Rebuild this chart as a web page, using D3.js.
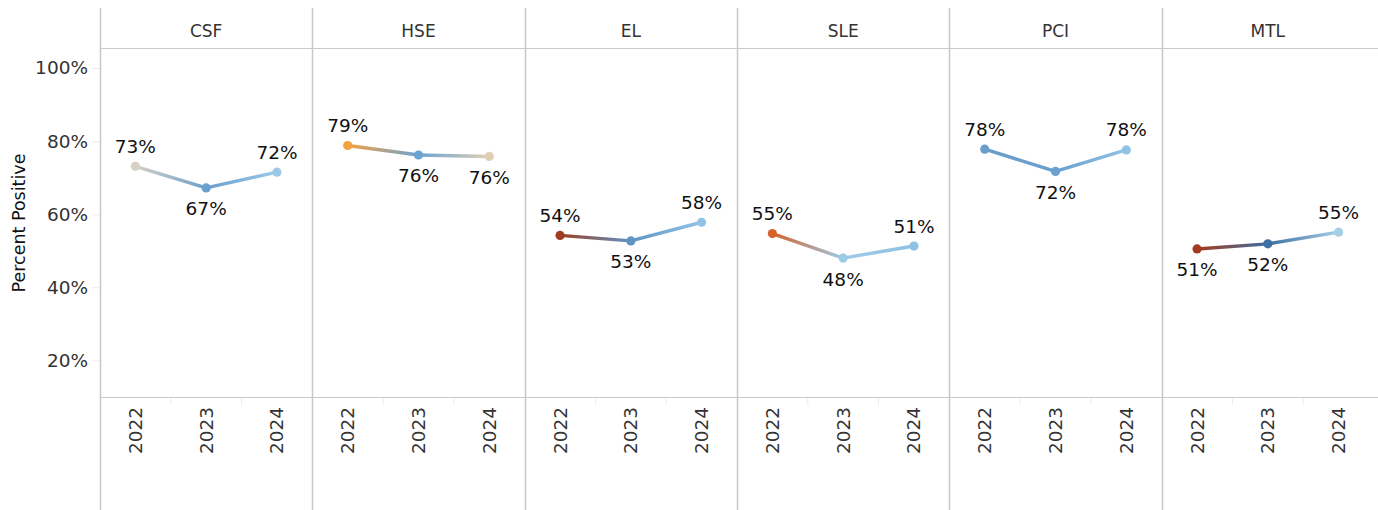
<!DOCTYPE html>
<html>
<head>
<meta charset="utf-8">
<script src="https://cdn.jsdelivr.net/npm/d3@7"></script>
<style>
  body { margin: 0; background: #fff; }
  svg text { font-family: "DejaVu Sans", sans-serif; }
</style>
</head>
<body>
<div id="chart"></div>
<script>
// data
const subjects = ["CSF", "HSE", "EL", "SLE", "PCI", "MTL"];
const years = ["2022", "2023", "2024"];
const values = [
  [73.1, 67.2, 71.5],
  [78.8, 76.2, 75.8],
  [54.2, 52.7, 57.8],
  [54.7, 48.0, 51.3],
  [77.8, 71.7, 77.6],
  [50.5, 51.9, 55.1]
];
const labels = [
  ["73%", "67%", "72%"],
  ["79%", "76%", "76%"],
  ["54%", "53%", "58%"],
  ["55%", "48%", "51%"],
  ["78%", "72%", "78%"],
  ["51%", "52%", "55%"]
];
const labelSide = [
  ["up", "down", "up"],
  ["up", "down", "down"],
  ["up", "down", "up"],
  ["up", "down", "up"],
  ["up", "down", "up"],
  ["down", "down", "up"]
];
const pointColors = [
  ["#d6d1c4", "#6a9fcf", "#9ccae6"],
  ["#f2a242", "#6ba3d3", "#e0d0b2"],
  ["#9e3d22", "#5f95c5", "#91c4e4"],
  ["#d5622b", "#9ccbe6", "#8ec2e3"],
  ["#6a9dca", "#6aa0cf", "#8fc3e3"],
  ["#a33b20", "#3e6fa2", "#a4cfe6"]
];
const yTicks = [20, 40, 60, 80, 100];

const width = 1378, height = 510;
const left = 100, right = 1374;
const headTop = 8, plotTop = 49, plotBottom = 397;
const grid = "#c8c8c8";

const svg = d3.select("#chart").append("svg")
  .attr("width", width).attr("height", height);
const defs = svg.append("defs");

const fx = d3.scaleBand().domain(subjects).range([left, right]);
const y = d3.scaleLinear().domain([10, 105.2]).range([plotBottom, plotTop]);

// y axis
const yAxis = svg.append("g")
  .attr("transform", `translate(${left},0)`)
  .call(d3.axisLeft(y).tickValues(yTicks).tickFormat(d => d + "%").tickSize(8).tickPadding(4));
yAxis.select(".domain").remove();
yAxis.selectAll(".tick line").attr("stroke", "#ececec");
yAxis.selectAll(".tick text").attr("font-size", 18.5).attr("fill", "#333")
  .style("font-family", "DejaVu Sans");

svg.append("text")
  .attr("transform", `translate(25,223) rotate(-90)`)
  .attr("text-anchor", "middle")
  .attr("font-size", 17.5).attr("fill", "#111")
  .text("Percent Positive");

// frame lines
svg.append("line").attr("x1", left).attr("x2", width).attr("y1", plotTop - 0.5).attr("y2", plotTop - 0.5)
  .attr("stroke", grid);
svg.append("line").attr("x1", left).attr("x2", width).attr("y1", plotBottom + 0.5).attr("y2", plotBottom + 0.5)
  .attr("stroke", grid);

subjects.forEach((s, i) => {
  const x0 = fx(s);
  const x = d3.scaleBand().domain(years).range([x0, x0 + fx.bandwidth()]);
  const cx = yr => x(yr) + x.bandwidth() / 2;

  svg.append("line")
    .attr("x1", Math.round(x0) + 0.5).attr("x2", Math.round(x0) + 0.5)
    .attr("y1", headTop).attr("y2", height)
    .attr("stroke", grid).attr("stroke-width", 1.5);

  svg.append("text")
    .attr("x", x0 + fx.bandwidth() / 2).attr("y", 37)
    .attr("text-anchor", "middle").attr("font-size", 17).attr("fill", "#333")
    .text(s);

  // light ticks between years
  years.slice(1).forEach(yr => {
    svg.append("line")
      .attr("x1", x(yr)).attr("x2", x(yr))
      .attr("y1", plotBottom + 1).attr("y2", plotBottom + 8)
      .attr("stroke", "#ececec");
  });

  // year labels
  const xAxis = svg.append("g")
    .attr("transform", `translate(0,${plotBottom})`)
    .call(d3.axisBottom(x).tickSize(0).tickPadding(0));
  xAxis.select(".domain").remove();
  xAxis.selectAll(".tick text")
    .attr("transform", "translate(0,10) rotate(-90)")
    .attr("text-anchor", "end").attr("dy", "0.35em").attr("x", 0).attr("y", 0)
    .attr("font-size", 18.5).attr("fill", "#333")
    .style("font-family", "DejaVu Sans");

  const pts = years.map((yr, j) => ({ x: cx(yr), y: y(values[i][j]), c: pointColors[i][j],
    label: labels[i][j], side: labelSide[i][j] }));

  // gradient segments
  for (let j = 0; j < pts.length - 1; j++) {
    const a = pts[j], b = pts[j + 1];
    const id = `g${i}_${j}`;
    const gr = defs.append("linearGradient").attr("id", id)
      .attr("gradientUnits", "userSpaceOnUse")
      .attr("x1", a.x).attr("y1", a.y).attr("x2", b.x).attr("y2", b.y);
    gr.append("stop").attr("offset", "0%").attr("stop-color", a.c);
    gr.append("stop").attr("offset", "100%").attr("stop-color", b.c);
    svg.append("line")
      .attr("x1", a.x).attr("y1", a.y).attr("x2", b.x).attr("y2", b.y)
      .attr("stroke", `url(#${id})`).attr("stroke-width", 3.4).attr("stroke-linecap", "round");
  }

  svg.selectAll(null).data(pts).enter().append("circle")
    .attr("cx", d => d.x).attr("cy", d => d.y).attr("r", 4.6)
    .attr("fill", d => d.c);

  svg.selectAll(null).data(pts).enter().append("text")
    .attr("x", d => d.x)
    .attr("y", d => d.side === "up" ? d.y - 20 : d.y + 21)
    .attr("dy", "0.35em")
    .attr("text-anchor", "middle").attr("font-size", 18.5).attr("fill", "#111")
    .text(d => d.label);
});
</script>
</body>
</html>
